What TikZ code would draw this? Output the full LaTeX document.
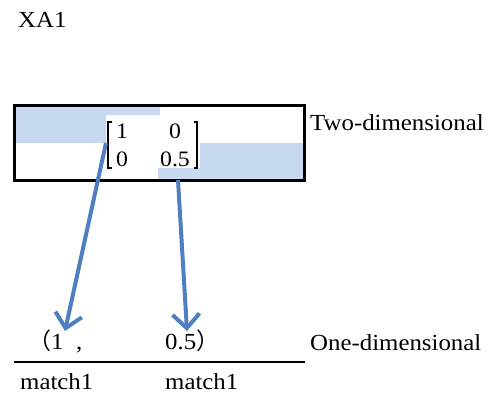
\documentclass[tikz,border=0pt]{standalone}
\usepackage{fontspec}
\setmainfont[FakeStretch=1.08]{Liberation Serif}
\newfontfamily\cjkfont{Noto Sans CJK SC}
\usetikzlibrary{arrows.meta}
\definecolor{cellblue}{HTML}{C6D9F1}
\definecolor{arrowblue}{HTML}{4F7FC0}
\tikzset{
  lbl/.style={anchor=base west, inner sep=0pt, font=\fontsize{23}{25}\selectfont},
  entry/.style={anchor=base, inner sep=0pt, font=\fontsize{22}{24}\selectfont},
  bluearrow/.style={draw=arrowblue, line width=4pt,
    -{Straight Barb[length=14pt,width=27pt,line width=4pt]}},
}
\begin{document}
\begin{tikzpicture}[x=1pt,y=-1pt]
\useasboundingbox (0,0) rectangle (493,396);
% shading
\fill[cellblue] (14,106) -- (160,106) -- (160,115) -- (106,115) -- (106,143) -- (14,143) -- cycle;
\fill[cellblue] (200,143) -- (304,143) -- (304,180) -- (158,180) -- (158,168) -- (200,168) -- cycle;
% box
\draw[line width=3pt] (14,106) rectangle (304,180);
% matrix brackets
\draw[line width=1.2pt] (111.5,122) -- (108,122) -- (108,168) -- (111.5,168);
\draw[line width=1.2pt] (193.5,122) -- (197,122) -- (197,168) -- (193.5,168);
% entries
\node[entry] (a11) at (122,139) {1};
\node[entry] (a12) at (175,139) {0};
\node[entry] (a21) at (122,166) {0};
\node[entry] (a22) at (175,166) {0.5};
% labels
\node[lbl] (title) at (18,28) {XA1};
\node[lbl] (two) at (310,130) {Two-dimensional};
\node[lbl] (one) at (310,350) {One-dimensional};
\node[lbl] (p1) at (28,349) {{\cjkfont （}1};
\node[lbl] (comma) at (76,349) {,};
\node[lbl] (p2) at (165,349) {0.5{\cjkfont ）}};
\node[lbl] (m1) at (20,389) {match1};
\node[lbl] (m2) at (165,389) {match1};
% baseline rule
\draw[line width=1.5pt] (14,362) -- (305,362);
% arrows
\coordinate (s1) at (106,143);
\coordinate (e1) at (65,331);
\coordinate (s2) at (178,180);
\coordinate (e2) at (187,331);
\draw[bluearrow] (s1) -- (e1);
\draw[bluearrow] (s2) -- (e2);
\end{tikzpicture}
\end{document}
